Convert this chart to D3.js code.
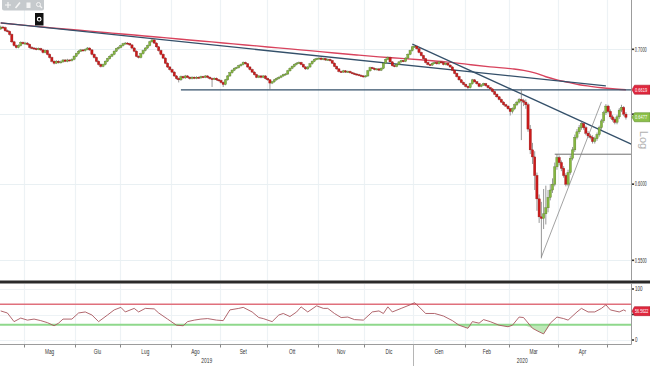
<!DOCTYPE html>
<html><head><meta charset="utf-8">
<script src="https://cdn.jsdelivr.net/npm/d3@7"></script>
<style>
html,body{margin:0;padding:0;background:#fff;overflow:hidden}
svg{display:block}
text{font-family:"Liberation Sans",Arial,sans-serif}
</style>
</head><body>
<svg id="c" width="650" height="366"></svg>
<script>
// ---------------- DATA ----------------
const firstDay = [2019, 3, 16]; // 16 Apr 2019, daily weekday candles
const itMonths = ["Gen","Feb","Mar","Apr","Mag","Giu","Lug","Ago","Set","Ott","Nov","Dic"];
const years = ["2019","2020"];
const priceTicks = [0.55, 0.60, 0.65, 0.70];
const priceTickLabels = [0.55, 0.60, 0.70];   // 0.6500 is hidden under the last-price tag
const rsiTicks = [0, 50, 100];
const rsiTickLabels = [0, 100];               // 50 is hidden under the RSI tag

const opens = [
0.7165,0.7180,0.7175,0.7150,0.7145,0.7120,0.7060,0.7030,0.7015,0.7030,
0.7055,0.7045,0.7050,0.7040,0.7015,0.7010,0.7005,0.7000,0.7005,0.6995,
0.6975,0.6990,0.6960,0.6935,0.6905,0.6890,0.6905,0.6895,0.6900,0.6915,
0.6905,0.6915,0.6910,0.6920,0.6945,0.6965,0.6985,0.6995,0.6990,0.7000,
0.7010,0.6995,0.6960,0.6935,0.6905,0.6880,0.6865,0.6880,0.6905,0.6925,
0.6945,0.6960,0.6985,0.7005,0.7015,0.7030,0.7045,0.7050,0.7045,0.7035,
0.7010,0.6985,0.6945,0.6935,0.6965,0.6990,0.7010,0.7030,0.7060,0.7075,
0.7050,0.7020,0.6990,0.6960,0.6930,0.6890,0.6860,0.6840,0.6820,0.6790,
0.6770,0.6760,0.6785,0.6775,0.6790,0.6780,0.6770,0.6780,0.6772,0.6780,
0.6775,0.6785,0.6780,0.6790,0.6780,0.6770,0.6765,0.6772,0.6760,0.6755,
0.6740,0.6725,0.6760,0.6790,0.6815,0.6835,0.6850,0.6855,0.6870,0.6880,
0.6895,0.6885,0.6860,0.6840,0.6820,0.6800,0.6780,0.6790,0.6780,0.6790,
0.6770,0.6760,0.6735,0.6745,0.6760,0.6770,0.6780,0.6790,0.6800,0.6805,
0.6830,0.6850,0.6865,0.6880,0.6890,0.6895,0.6880,0.6860,0.6845,0.6860,
0.6885,0.6905,0.6920,0.6925,0.6930,0.6920,0.6925,0.6915,0.6920,0.6910,
0.6890,0.6865,0.6845,0.6825,0.6820,0.6830,0.6820,0.6825,0.6815,0.6810,
0.6805,0.6800,0.6795,0.6790,0.6785,0.6790,0.6830,0.6855,0.6850,0.6840,
0.6845,0.6835,0.6850,0.6890,0.6920,0.6935,0.6900,0.6870,0.6865,0.6880,
0.6900,0.6910,0.6905,0.6930,0.6960,0.6990,0.7020,0.7025,0.7005,0.6975,
0.6950,0.6925,0.6895,0.6880,0.6875,0.6890,0.6895,0.6885,0.6900,0.6895,
0.6880,0.6890,0.6875,0.6860,0.6835,0.6810,0.6785,0.6760,0.6740,0.6725,
0.6710,0.6700,0.6730,0.6760,0.6745,0.6730,0.6710,0.6720,0.6730,0.6715,
0.6700,0.6690,0.6670,0.6650,0.6630,0.6610,0.6590,0.6570,0.6560,0.6540,
0.6520,0.6540,0.6570,0.6590,0.6610,0.6600,0.6590,0.6570,0.6390,0.6240,
0.6190,0.6060,0.5900,0.5780,0.5770,0.5800,0.5840,0.5910,0.5960,0.6000,
0.6120,0.6185,0.6150,0.6110,0.6060,0.6000,0.6080,0.6180,0.6240,0.6330,
0.6370,0.6400,0.6430,0.6400,0.6360,0.6340,0.6330,0.6300,0.6320,0.6350,
0.6400,0.6450,0.6510,0.6560,0.6520,0.6480,0.6460,0.6440,0.6480,0.6530,0.6550,0.6500];

const highs = [
0.7192,0.7190,0.7184,0.7160,0.7152,0.7128,0.7068,0.7038,0.7040,0.7064,
0.7062,0.7060,0.7058,0.7046,0.7025,0.7018,0.7014,0.7014,0.7012,0.7004,
0.6998,0.6997,0.6968,0.6942,0.6912,0.6914,0.6912,0.6910,0.6922,0.6921,
0.6924,0.6920,0.6928,0.6952,0.6972,0.6994,0.7003,0.7002,0.7008,0.7018,
0.7016,0.7002,0.6967,0.6942,0.6912,0.6888,0.6887,0.6912,0.6932,0.6952,
0.6967,0.6992,0.7012,0.7024,0.7038,0.7052,0.7058,0.7057,0.7052,0.7042,
0.7018,0.6992,0.6952,0.6972,0.6997,0.7018,0.7037,0.7068,0.7084,0.7082,
0.7057,0.7027,0.6997,0.6967,0.6937,0.6897,0.6867,0.6847,0.6827,0.6797,
0.6778,0.6793,0.6792,0.6798,0.6797,0.6787,0.6788,0.6786,0.6788,0.6786,
0.6792,0.6791,0.6797,0.6796,0.6787,0.6777,0.6779,0.6778,0.6767,0.6762,
0.6747,0.6767,0.6797,0.6822,0.6842,0.6857,0.6862,0.6877,0.6887,0.6903,
0.6902,0.6891,0.6867,0.6847,0.6827,0.6807,0.6797,0.6796,0.6797,0.6796,
0.6777,0.6766,0.6752,0.6767,0.6777,0.6787,0.6797,0.6807,0.6812,0.6837,
0.6857,0.6872,0.6887,0.6897,0.6903,0.6901,0.6886,0.6866,0.6867,0.6892,
0.6912,0.6927,0.6932,0.6937,0.6936,0.6932,0.6931,0.6927,0.6926,0.6916,
0.6896,0.6871,0.6851,0.6831,0.6837,0.6836,0.6832,0.6831,0.6821,0.6816,
0.6811,0.6806,0.6801,0.6796,0.6797,0.6837,0.6862,0.6861,0.6856,0.6852,
0.6851,0.6857,0.6897,0.6927,0.6943,0.6941,0.6906,0.6876,0.6887,0.6907,
0.6917,0.6916,0.6937,0.6967,0.6997,0.7028,0.7034,0.7031,0.7011,0.6981,
0.6956,0.6931,0.6901,0.6886,0.6897,0.6902,0.6901,0.6907,0.6906,0.6901,
0.6897,0.6896,0.6881,0.6866,0.6841,0.6816,0.6791,0.6766,0.6746,0.6731,
0.6716,0.6737,0.6767,0.6766,0.6751,0.6736,0.6727,0.6737,0.6736,0.6721,
0.6706,0.6696,0.6676,0.6656,0.6636,0.6616,0.6597,0.6577,0.6566,0.6546,
0.6550,0.6580,0.6600,0.6620,0.6690,0.6615,0.6610,0.6585,0.6420,0.6290,
0.6230,0.6080,0.5930,0.5880,0.5967,0.5990,0.5960,0.6000,0.6040,0.6150,
0.6210,0.6200,0.6165,0.6125,0.6075,0.6100,0.6200,0.6260,0.6350,0.6390,
0.6420,0.6445,0.6440,0.6415,0.6375,0.6355,0.6345,0.6335,0.6365,0.6415,
0.6465,0.6525,0.6575,0.6570,0.6535,0.6495,0.6475,0.6495,0.6545,0.6570,0.6560,0.6515];

const lows = [
0.7157,0.7167,0.7141,0.7137,0.7111,0.7052,0.7022,0.7007,0.7008,0.7023,
0.7038,0.7037,0.7032,0.7007,0.7002,0.6997,0.6992,0.6993,0.6987,0.6967,
0.6968,0.6952,0.6927,0.6897,0.6880,0.6883,0.6887,0.6888,0.6893,0.6898,
0.6897,0.6903,0.6903,0.6913,0.6938,0.6958,0.6978,0.6983,0.6982,0.6993,
0.6987,0.6952,0.6927,0.6897,0.6872,0.6856,0.6858,0.6873,0.6898,0.6918,
0.6938,0.6953,0.6978,0.6998,0.7008,0.7023,0.7038,0.7038,0.7028,0.7002,
0.6977,0.6937,0.6927,0.6928,0.6958,0.6983,0.7003,0.7023,0.7053,0.7042,
0.7012,0.6982,0.6952,0.6922,0.6882,0.6852,0.6832,0.6812,0.6782,0.6762,
0.6740,0.6752,0.6768,0.6768,0.6773,0.6762,0.6763,0.6765,0.6765,0.6768,
0.6768,0.6773,0.6773,0.6772,0.6762,0.6705,0.6758,0.6752,0.6747,0.6732,
0.6705,0.6718,0.6753,0.6783,0.6808,0.6828,0.6843,0.6848,0.6863,0.6873,
0.6878,0.6853,0.6833,0.6813,0.6793,0.6773,0.6773,0.6772,0.6773,0.6763,
0.6752,0.6690,0.6727,0.6738,0.6753,0.6763,0.6773,0.6783,0.6793,0.6798,
0.6823,0.6843,0.6858,0.6873,0.6883,0.6873,0.6853,0.6838,0.6838,0.6853,
0.6878,0.6898,0.6913,0.6918,0.6913,0.6913,0.6908,0.6908,0.6903,0.6883,
0.6858,0.6838,0.6818,0.6813,0.6813,0.6813,0.6813,0.6808,0.6803,0.6798,
0.6793,0.6788,0.6783,0.6778,0.6778,0.6783,0.6823,0.6843,0.6833,0.6833,
0.6828,0.6828,0.6843,0.6883,0.6913,0.6893,0.6863,0.6858,0.6858,0.6873,
0.6893,0.6898,0.6898,0.6923,0.6953,0.6983,0.7013,0.6998,0.6968,0.6943,
0.6918,0.6888,0.6873,0.6868,0.6868,0.6883,0.6878,0.6878,0.6888,0.6873,
0.6873,0.6868,0.6853,0.6828,0.6803,0.6778,0.6753,0.6733,0.6718,0.6703,
0.6685,0.6693,0.6723,0.6738,0.6723,0.6703,0.6703,0.6713,0.6708,0.6693,
0.6683,0.6663,0.6643,0.6623,0.6603,0.6583,0.6563,0.6553,0.6533,0.6490,
0.6505,0.6530,0.6560,0.6580,0.6310,0.6560,0.6540,0.6370,0.6210,0.6140,
0.5960,0.5820,0.5740,0.5512,0.5700,0.5730,0.5810,0.5890,0.5940,0.5985,
0.6100,0.6130,0.6090,0.6045,0.5985,0.5985,0.6065,0.6165,0.6225,0.6315,
0.6355,0.6385,0.6385,0.6345,0.6325,0.6315,0.6285,0.6285,0.6305,0.6335,
0.6385,0.6435,0.6495,0.6505,0.6465,0.6445,0.6425,0.6425,0.6465,0.6515,0.6485,0.6460];

const closes = [
0.7180,0.7175,0.7150,0.7145,0.7120,0.7060,0.7030,0.7015,0.7030,0.7055,
0.7045,0.7050,0.7040,0.7015,0.7010,0.7005,0.7000,0.7005,0.6995,0.6975,
0.6990,0.6960,0.6935,0.6905,0.6890,0.6905,0.6895,0.6900,0.6915,0.6905,
0.6915,0.6910,0.6920,0.6945,0.6965,0.6985,0.6995,0.6990,0.7000,0.7010,
0.6995,0.6960,0.6935,0.6905,0.6880,0.6865,0.6880,0.6905,0.6925,0.6945,
0.6960,0.6985,0.7005,0.7015,0.7030,0.7045,0.7050,0.7045,0.7035,0.7010,
0.6985,0.6945,0.6935,0.6965,0.6990,0.7010,0.7030,0.7060,0.7075,0.7050,
0.7020,0.6990,0.6960,0.6930,0.6890,0.6860,0.6840,0.6820,0.6790,0.6770,
0.6760,0.6785,0.6775,0.6790,0.6780,0.6770,0.6780,0.6772,0.6780,0.6775,
0.6785,0.6780,0.6790,0.6780,0.6770,0.6765,0.6772,0.6760,0.6755,0.6740,
0.6725,0.6760,0.6790,0.6815,0.6835,0.6850,0.6855,0.6870,0.6880,0.6895,
0.6885,0.6860,0.6840,0.6820,0.6800,0.6780,0.6790,0.6780,0.6790,0.6770,
0.6760,0.6735,0.6745,0.6760,0.6770,0.6780,0.6790,0.6800,0.6805,0.6830,
0.6850,0.6865,0.6880,0.6890,0.6895,0.6880,0.6860,0.6845,0.6860,0.6885,
0.6905,0.6920,0.6925,0.6930,0.6920,0.6925,0.6915,0.6920,0.6910,0.6890,
0.6865,0.6845,0.6825,0.6820,0.6830,0.6820,0.6825,0.6815,0.6810,0.6805,
0.6800,0.6795,0.6790,0.6785,0.6790,0.6830,0.6855,0.6850,0.6840,0.6845,
0.6835,0.6850,0.6890,0.6920,0.6935,0.6900,0.6870,0.6865,0.6880,0.6900,
0.6910,0.6905,0.6930,0.6960,0.6990,0.7020,0.7025,0.7005,0.6975,0.6950,
0.6925,0.6895,0.6880,0.6875,0.6890,0.6895,0.6885,0.6900,0.6895,0.6880,
0.6890,0.6875,0.6860,0.6835,0.6810,0.6785,0.6760,0.6740,0.6725,0.6710,
0.6700,0.6730,0.6760,0.6745,0.6730,0.6710,0.6720,0.6730,0.6715,0.6700,
0.6690,0.6670,0.6650,0.6630,0.6610,0.6590,0.6570,0.6560,0.6540,0.6520,
0.6540,0.6570,0.6590,0.6610,0.6600,0.6590,0.6570,0.6390,0.6240,0.6190,
0.6060,0.5900,0.5780,0.5770,0.5800,0.5840,0.5910,0.5960,0.6000,0.6120,
0.6185,0.6150,0.6110,0.6060,0.6000,0.6080,0.6180,0.6240,0.6330,0.6370,
0.6400,0.6430,0.6400,0.6360,0.6340,0.6330,0.6300,0.6320,0.6350,0.6400,
0.6450,0.6510,0.6560,0.6520,0.6480,0.6460,0.6440,0.6480,0.6530,0.6550,0.6500,0.6477];

// 200-day moving average, read at sampled candles
const maIdx = [0,10,20,30,40,50,60,70,80,90,100,110,120,130,140,150,160,170,180,190,200,210,220,230,235,240,245,250,255,260,265,270,275,281];
const maVal = [0.7214,0.7196,0.7179,0.7162,0.7147,0.7131,0.7115,0.7099,0.7083,0.7067,0.7051,0.7035,0.7019,0.7003,0.6987,0.6971,0.6955,0.6940,0.6928,0.6915,0.6900,0.6880,0.6861,0.6845,0.6833,0.6814,0.6784,0.6760,0.6741,0.6722,0.6710,0.6699,0.6691,0.6684];
const maLabel = "0.6619";

// RSI(14), read at sampled candles
const rsiIdx = [0,3,6,9,12,15,18,21,24,26,28,32,35,38,41,44,48,51,54,56,60,62,65,69,71,75,79,82,84,87,90,93,97,100,103,107,109,113,116,118,122,125,127,130,133,135,138,142,145,147,150,153,156,159,163,167,170,172,174,176,180,184,186,188,191,195,199,203,206,210,212,215,217,220,224,228,230,233,235,239,242,244,247,250,253,255,259,261,264,267,270,272,274,278,280,281];
const rsiVal = [57,53,36,43,39,41,38,34,28,33,41,41,53,55,49,36,49,59,64,55,62,55,62,61,53,41,29,28,36,39,41,42,39,38,59,62,64,55,44,42,36,49,52,46,55,65,55,67,62,62,52,44,45,40,39,55,57,52,65,55,62,69,73,65,52,52,47,38,29,23,36,33,40,36,29,26,29,45,44,23,16,12,33,45,42,39,55,62,55,55,62,69,59,55,59,56.56];
const rsiLabel = "56.5622";
const lastLabel = "0.6477";

// drawn studies: [candle index, price]
const trendLong = [[0,0.7215],[272,0.6713]];
const trendDown = [[185,0.7042],[284,0.6277]];
const trendUp   = [[243,0.5520],[270,0.6592]];
const supportTop = [[81,0.6683],[290,0.6683]];
const supportLow = [[249,0.6209],[290,0.6209]];

// ---------------- CHART ----------------
const W = 650, H = 366;
const plotR = 631, mainTop = 0, mainBot = 280.5, rsiTop = 284, rsiBot = 344.5;
const svg = d3.select("#c");
const n = closes.length;

// small condensed text (horizontal scale transform)
function ctext(parent, tx, ty, txt, size, sx, anchor, fill) {
  return parent.append("text")
    .attr("transform", `translate(${tx},${ty}) scale(${sx},1)`)
    .attr("text-anchor", anchor).attr("font-size", size).attr("fill", fill).text(txt);
}

const dates = [];
{ const d = new Date(firstDay[0], firstDay[1], firstDay[2]);
  while (dates.length < n) { const w = d.getDay(); if (w !== 0 && w !== 6) dates.push(new Date(d)); d.setDate(d.getDate()+1); } }

const x = d3.scaleLinear().domain([0, n-1]).range([0.7, 0.7 + 2.225*(n-1)]);
const y = d3.scaleLog().domain([0.70, 0.55]).range([49.3, 260.3]);
const yr = d3.scaleLinear().domain([0, 100]).range([340, 289]);

const bounds = [];
dates.forEach((d,i) => { if (i > 0 && d.getMonth() !== dates[i-1].getMonth()) bounds.push(i); });

const defs = svg.append("defs");
defs.append("clipPath").attr("id","clipMain").append("rect").attr("x",0).attr("y",mainTop).attr("width",plotR).attr("height",mainBot-mainTop);
defs.append("clipPath").attr("id","clipRsi").append("rect").attr("x",0).attr("y",rsiTop).attr("width",plotR).attr("height",rsiBot-rsiTop);

// grid
const grid = svg.append("g");
bounds.forEach(b => {
  const bx = Math.round(x(b-0.5)) + 0.5;
  grid.append("line").attr("x1",bx).attr("x2",bx).attr("y1",mainTop).attr("y2",mainBot).attr("stroke","#edf2f5").attr("stroke-width",1.2);
  grid.append("line").attr("x1",bx).attr("x2",bx).attr("y1",rsiTop).attr("y2",rsiBot).attr("stroke","#edf2f5").attr("stroke-width",1.2);
});
priceTicks.forEach(t => {
  const ty = Math.round(y(t)) + 0.5;
  grid.append("line").attr("x1",0).attr("x2",plotR).attr("y1",ty).attr("y2",ty).attr("stroke","#e9f0f3").attr("stroke-width",1.2);
});
rsiTicks.forEach(t => {
  const ty = Math.round(yr(t)) + 0.5;
  grid.append("line").attr("x1",0).attr("x2",plotR).attr("y1",ty).attr("y2",ty).attr("stroke","#edf2f5").attr("stroke-width",1);
});

// main panel contents
const main = svg.append("g").attr("clip-path","url(#clipMain)");
const line = d3.line().x(d => x(d[0])).y(d => y(d[1]));

main.append("path").datum(maIdx.map((k,j) => [k, maVal[j]]))
  .attr("d", d3.line().x(d => x(d[0])).y(d => y(d[1])).curve(d3.curveMonotoneX))
  .attr("fill","none").attr("stroke","#d8435d").attr("stroke-width",1.4);

main.append("path").datum(trendLong).attr("d",line).attr("fill","none").attr("stroke","#34506a").attr("stroke-width",1.3);
main.append("path").datum(supportTop).attr("d",line).attr("fill","none").attr("stroke","#34506a").attr("stroke-width",1.3);
main.append("path").datum(trendDown).attr("d",line).attr("fill","none").attr("stroke","#34506a").attr("stroke-width",1.3);
main.append("path").datum(supportLow).attr("d",line).attr("fill","none").attr("stroke","#6f6f6f").attr("stroke-width",1);
main.append("path").datum(trendUp).attr("d",line).attr("fill","none").attr("stroke","#8a8a8a").attr("stroke-width",0.8);

// candles
const cg = main.append("g");
const idx = d3.range(n);
cg.selectAll("line.w").data(idx).join("line").attr("class","w")
  .attr("x1", i => x(i)).attr("x2", i => x(i))
  .attr("y1", i => y(highs[i])).attr("y2", i => y(lows[i]))
  .attr("stroke","#7d7d7d").attr("stroke-width",0.8);
cg.selectAll("rect.b").data(idx).join("rect").attr("class","b")
  .attr("x", i => x(i) - 1.1).attr("width", 2.2)
  .attr("y", i => y(Math.max(opens[i], closes[i])))
  .attr("height", i => Math.max(1, Math.abs(y(opens[i]) - y(closes[i]))))
  .attr("fill", i => closes[i] >= opens[i] ? "#86b840" : "#cc1b1b")
  .attr("stroke", i => closes[i] >= opens[i] ? "#5a7f2a" : "#9a1010")
  .attr("stroke-width",0.4);

// separator between panels
svg.append("rect").attr("x",0).attr("y",280.5).attr("width",W).attr("height",3).attr("fill","#2a2a2a");

// RSI panel
const rg = svg.append("g").attr("clip-path","url(#clipRsi)");
const rsiPts = rsiIdx.map((k,j) => [k, rsiVal[j]]);
rg.append("path").datum(rsiPts)
  .attr("d", d3.area().x(d => x(d[0])).y0(yr(30)).y1(d => yr(Math.min(d[1],30))))
  .attr("fill","#bfe8b8");
rg.append("path").datum(rsiPts)
  .attr("d", d3.area().x(d => x(d[0])).y0(yr(70)).y1(d => yr(Math.max(d[1],70))))
  .attr("fill","#f6c9cf");
rg.append("line").attr("x1",0).attr("x2",plotR).attr("y1",yr(70)).attr("y2",yr(70)).attr("stroke","#e0707c").attr("stroke-width",1.4);
rg.append("line").attr("x1",0).attr("x2",plotR).attr("y1",yr(30)).attr("y2",yr(30)).attr("stroke","#8fd88c").attr("stroke-width",2);
rg.append("path").datum(rsiPts)
  .attr("d", d3.line().x(d => x(d[0])).y(d => yr(d[1])))
  .attr("fill","none").attr("stroke","#a8565e").attr("stroke-width",0.9);

// right axes
svg.append("line").attr("x1",plotR+0.5).attr("x2",plotR+0.5).attr("y1",0).attr("y2",mainBot).attr("stroke","#9c9c9c");
svg.append("line").attr("x1",plotR+0.5).attr("x2",plotR+0.5).attr("y1",rsiTop).attr("y2",rsiBot).attr("stroke","#9c9c9c");
const fmtP = d3.format(".4f");
priceTicks.forEach(t => {
  svg.append("rect").attr("x",plotR+1).attr("y",y(t)-0.8).attr("width",2).attr("height",1.6).attr("fill","#333");
});
priceTickLabels.forEach(t => ctext(svg, plotR+3.8, y(t)+2.3, fmtP(t), 6.5, 0.6, "start", "#333"));
rsiTicks.forEach(t => {
  svg.append("rect").attr("x",plotR+1).attr("y",yr(t)-0.8).attr("width",2).attr("height",1.6).attr("fill","#333");
});
rsiTickLabels.forEach(t => ctext(svg, plotR+4, yr(t)+2.3, t, 6.5, 0.7, "start", "#333"));

// value tags
function tag(yv, txt, fill, stroke, sx) {
  const g = svg.append("g");
  g.append("path").attr("d", `M${plotR+1},${yv} L${plotR+3.5},${yv-4.5} L${W},${yv-4.5} L${W},${yv+4.5} L${plotR+3.5},${yv+4.5} Z`)
    .attr("fill", fill).attr("stroke", stroke).attr("stroke-width",0.6);
  ctext(g, plotR+4, yv+2.2, txt, 6.2, sx, "start", "#fff");
}
tag(y(maVal[maVal.length-1]), maLabel, "#e0283e", "#b01a2c", 0.64);
tag(y(closes[n-1]), lastLabel, "#8cc04a", "#5f8f2a", 0.64);
tag(yr(rsiVal[rsiVal.length-1]), rsiLabel, "#e0283e", "#b01a2c", 0.6);

// "Log" marker
svg.append("text").attr("transform","translate(640,140) rotate(90)").attr("text-anchor","middle")
  .attr("font-size",11).attr("fill","#b0b0b0").text("Log");

// bottom time axis
svg.append("line").attr("x1",0).attr("x2",plotR+0.5).attr("y1",rsiBot).attr("y2",rsiBot).attr("stroke","#9c9c9c");
bounds.forEach((b,k) => {
  const bx = Math.round(x(b-0.5)) + 0.5;
  svg.append("line").attr("x1",bx).attr("x2",bx).attr("y1",rsiBot).attr("y2",rsiBot+3).attr("stroke","#888");
  if (k < bounds.length-1) {
    const cx = (x(b-0.5) + x(bounds[k+1]-0.5)) / 2;
    ctext(svg, cx, 354, itMonths[dates[b].getMonth()], 7, 0.68, "middle", "#333");
  }
});
const yearStart = bounds.find(b => dates[b].getFullYear() === 2020);
const yx = Math.round(x(yearStart-0.5)) + 0.5;
svg.append("line").attr("x1",yx).attr("x2",yx).attr("y1",rsiBot).attr("y2",H).attr("stroke","#b5b5b5");
ctext(svg, yx/2, 363, years[0], 7, 0.7, "middle", "#333");
ctext(svg, (yx+plotR)/2, 363, years[1], 7, 0.7, "middle", "#333");

// toolbar (top-left)
const tb = svg.append("g");
tb.append("rect").attr("x",2).attr("y",-3).attr("width",42).attr("height",13.5).attr("rx",2).attr("fill","#c6cacd");
tb.append("path").attr("d","M5,5H11M8,2V8").attr("stroke","#f5f5f5").attr("stroke-width",1.2);
tb.append("path").attr("d","M15.5,8L20,2.5").attr("stroke","#f5f5f5").attr("stroke-width",1.6);
tb.append("rect").attr("x",26.5).attr("y",2.5).attr("width",4).attr("height",5.5).attr("fill","#f5f5f5");
tb.append("circle").attr("cx",38.5).attr("cy",4.5).attr("r",2).attr("fill","none").attr("stroke","#f5f5f5").attr("stroke-width",1);
tb.append("path").attr("d","M40,6L42,8").attr("stroke","#f5f5f5").attr("stroke-width",1.2);
tb.append("rect").attr("x",35).attr("y",13).attr("width",8.5).attr("height",12.5).attr("fill","#111");
tb.append("circle").attr("cx",39.2).attr("cy",19.2).attr("r",1.8).attr("fill","none").attr("stroke","#fff").attr("stroke-width",1.2);
</script>
</body></html>
